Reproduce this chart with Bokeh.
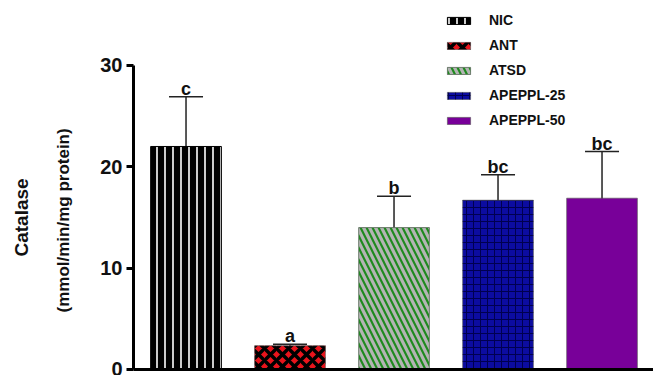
from bokeh.plotting import figure
from bokeh.models import (ColumnDataSource, Range1d, Whisker, TeeHead, Legend, LegendItem, Title)
from bokeh.core.properties import value
from bokeh.embed import file_html
from bokeh.resources import INLINE

# ---- data ----
groups = ["NIC", "ANT", "ATSD", "APEPPL-25", "APEPPL-50"]
means = [22.0, 2.35, 14.0, 16.7, 16.9]
upper = [26.9, 2.5, 17.1, 19.2, 21.5]
lower = [17.1, 2.2, 10.8, 14.3, 12.2]
letters = ["c", "a", "b", "bc", "bc"]
y_ticks = [0, 10, 20, 30]
y_title = ["Catalase", "(mmol/min/mg protein)"]

fills = ["#000000", "#e8141c", "#1f8a1f", "#0c0ca0", "#780099"]
hatch_colors = ["#ffffff", "#000000", "#b4b4b4", "#000050", "#780099"]
patterns = ["|", "x", "\\", "+", "blank"]
scales = [8.0, 12.0, 12.0, 7.0, 12.0]
weights = [1.6, 3.5, 3.2, 1.0, 1.0]

xs = list(range(len(groups)))

p = figure(width=653, height=375, output_backend="svg", toolbar_location=None,
           x_range=Range1d(-0.505, 4.495), y_range=Range1d(0, 36.4),
           min_border_left=133, min_border_right=0, min_border_top=0, min_border_bottom=5)

items = []
for i, g in enumerate(groups):
    src = ColumnDataSource(dict(x=[xs[i]], top=[means[i]]))
    r = p.vbar(x="x", top="top", width=0.68, source=src,
               fill_color=fills[i], line_color="#000000" if i == 0 else "#555555",
               line_width=1, line_alpha=1.0 if i == 0 else 0.6,
               hatch_pattern=value(patterns[i]), hatch_color=hatch_colors[i],
               hatch_scale=scales[i], hatch_weight=weights[i])
    items.append(LegendItem(label=g, renderers=[r]))

esrc = ColumnDataSource(dict(x=xs, upper=upper, lower=lower, letters=letters))
wh = Whisker(base="x", upper="upper", lower="lower", source=esrc,
             line_color="#222222", line_width=1.5,
             upper_head=TeeHead(size=34, line_color="#222222", line_width=1.5),
             lower_head=TeeHead(size=34, line_color="#222222", line_width=1.5))
p.add_layout(wh)

p.text(x="x", y="upper", text="letters", source=esrc,
       text_font=value("Liberation Sans"), text_font_style="bold", text_font_size="18px",
       text_align="center", text_baseline="alphabetic", y_offset=-8, text_color="#111111")

legend = Legend(items=items, location=(311, 239), margin=0, padding=0,
                border_line_alpha=0, background_fill_alpha=0,
                glyph_width=29, glyph_height=9, label_standoff=16,
                label_height=20, spacing=5,
                label_text_font="Liberation Sans", label_text_font_style="bold",
                label_text_font_size="14px", label_text_color="#111111")
p.add_layout(legend)

# y-axis title: two rotated titles in the left panel (inner line first)
title_standoffs = [-10, 50]
title_offsets = [113, 57]
title_sizes = ["19px", "17px"]
for txt, so, off, fs in reversed(list(zip(y_title, title_standoffs, title_offsets, title_sizes))):
    p.add_layout(Title(text=txt, align="left", offset=off, standoff=so,
                       text_font="Liberation Sans", text_font_style="bold",
                       text_font_size=fs, text_color="#111111"), "left")

# axes
p.xgrid.visible = False
p.ygrid.visible = False
p.outline_line_color = None
p.xaxis.major_label_text_font_size = "0px"
p.xaxis.major_tick_line_color = None
p.xaxis.minor_tick_line_color = None
p.xaxis.axis_line_width = 3
p.xaxis.axis_line_color = "#000000"

p.yaxis.bounds = (0, 30)
p.yaxis.ticker = y_ticks
p.yaxis.axis_line_width = 3
p.yaxis.axis_line_color = "#000000"
p.yaxis.major_tick_line_width = 3
p.yaxis.major_tick_out = 7
p.yaxis.major_tick_in = 0
p.yaxis.minor_tick_line_color = None
p.yaxis.major_label_text_font = "Liberation Sans"
p.yaxis.major_label_text_font_style = "bold"
p.yaxis.major_label_text_font_size = "20px"
p.yaxis.major_label_text_color = "#111111"
p.yaxis.major_label_standoff = 4

open("out.html", "w").write(file_html(p, INLINE))
